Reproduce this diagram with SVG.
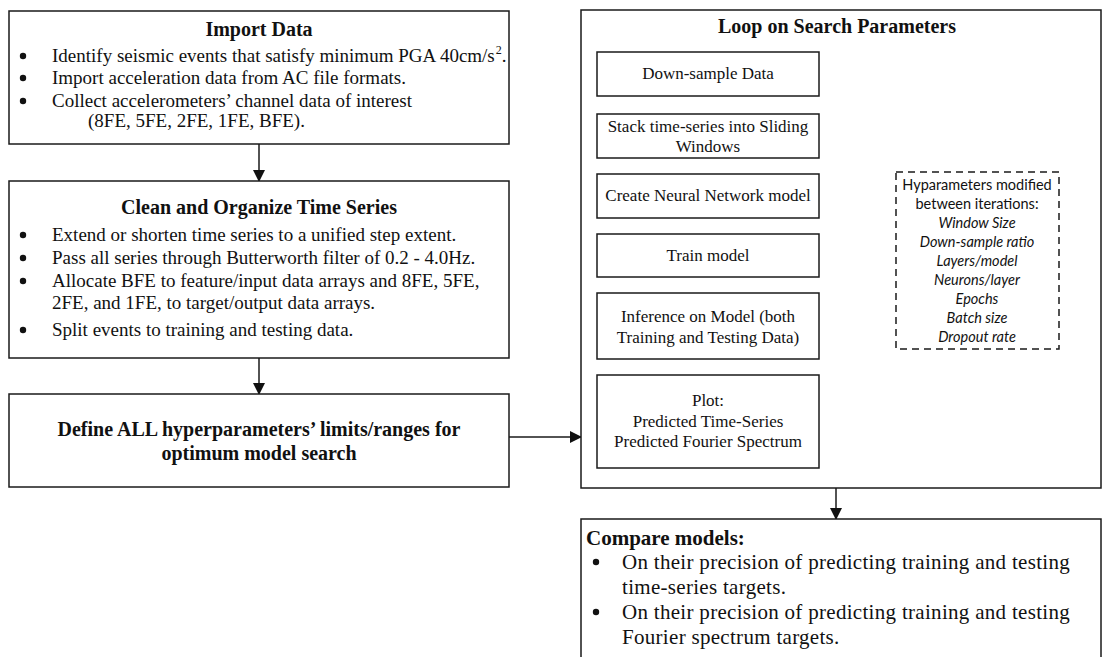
<svg xmlns="http://www.w3.org/2000/svg" width="1106" height="657" viewBox="0 0 1106 657">
<style>
.box{fill:#fff;stroke:#1a1a1a;stroke-width:1.5}
.dash{fill:#fff;stroke:#1a1a1a;stroke-width:1.5;stroke-dasharray:7,5}
.t{font-family:"Liberation Serif","Times New Roman",serif;font-size:19px;fill:#111}
.tb{font-family:"Liberation Serif","Times New Roman",serif;font-size:20px;font-weight:bold;fill:#111}
.cb{font-family:"Liberation Serif","Times New Roman",serif;font-size:21px;font-weight:bold;fill:#111}
.ct{font-family:"Liberation Serif","Times New Roman",serif;font-size:21px;letter-spacing:0.3px;fill:#111}
.bu{fill:#111}
.s{font-family:"Liberation Serif","Times New Roman",serif;font-size:17px;fill:#111}
.c{font-family:Lato,"Open Sans",sans-serif;font-size:14.5px;fill:#111}
.ci{font-style:italic}
.ln{fill:none;stroke:#1a1a1a;stroke-width:1.5}
</style>
<defs>
<marker id="ah" markerWidth="12" markerHeight="12" refX="11" refY="6" orient="auto" markerUnits="userSpaceOnUse">
<path d="M0,0 L12,6 L0,12 Z" fill="#111"/>
</marker>
</defs>

<g id="connectors">
<line class="ln" x1="259" y1="144" x2="259" y2="181" marker-end="url(#ah)"/>
<line class="ln" x1="259" y1="358" x2="259" y2="394" marker-end="url(#ah)"/>
<line class="ln" x1="509" y1="437" x2="581" y2="437" marker-end="url(#ah)"/>
<polyline class="ln" points="983,172 983,64 819,64" marker-end="url(#ah)"/>
<polyline class="ln" points="819,457 983,457 983,349" marker-end="url(#ah)"/>
<line class="ln" x1="836" y1="488" x2="836" y2="519" marker-end="url(#ah)"/>
</g>

<g id="import">
<rect class="box" x="9" y="11" width="500" height="133"/>
<text class="tb" x="259" y="36" text-anchor="middle">Import Data</text>
<g class="bu">
<circle cx="23" cy="56" r="3.2"/>
<circle cx="23" cy="78" r="3.2"/>
<circle cx="23" cy="101" r="3.2"/>
</g>
<g class="t">
<text x="52" y="62">Identify seismic events that satisfy minimum PGA 40cm/s<tspan font-size="12" dx="1" dy="-8">2</tspan><tspan dy="8">.</tspan></text>
<text x="52" y="84">Import acceleration data from AC file formats.</text>
<text x="52" y="107">Collect accelerometers’ channel data of interest</text>
<text x="88" y="127">(8FE, 5FE, 2FE, 1FE, BFE).</text>
</g>
</g>

<g id="clean">
<rect class="box" x="9" y="181" width="500" height="177"/>
<text class="tb" x="259" y="214" text-anchor="middle">Clean and Organize Time Series</text>
<g class="bu">
<circle cx="23" cy="235" r="3.2"/>
<circle cx="23" cy="258" r="3.2"/>
<circle cx="23" cy="281" r="3.2"/>
<circle cx="23" cy="330" r="3.2"/>
</g>
<g class="t">
<text x="52" y="241">Extend or shorten time series to a unified step extent.</text>
<text x="52" y="264">Pass all series through Butterworth filter of 0.2 - 4.0Hz.</text>
<text x="52" y="287">Allocate BFE to feature/input data arrays and 8FE, 5FE,</text>
<text x="52" y="309">2FE, and 1FE, to target/output data arrays.</text>
<text x="52" y="336">Split events to training and testing data.</text>
</g>
</g>

<g id="define">
<rect class="box" x="9" y="394" width="500" height="93"/>
<text class="tb" x="259" y="436" text-anchor="middle" font-size="20.5">Define ALL hyperparameters’ limits/ranges for</text>
<text class="tb" x="259" y="460" text-anchor="middle" font-size="20.5">optimum model search</text>
</g>

<g id="loop">
<rect class="box" x="581" y="10" width="520" height="478"/>
<text class="tb" x="837" y="33" text-anchor="middle">Loop on Search Parameters</text>
</g>

<g id="downsample">
<rect class="box" x="597" y="52" width="222" height="44"/>
<text class="s" x="708" y="79" text-anchor="middle">Down-sample Data</text>
</g>
<g id="stack">
<rect class="box" x="597" y="114" width="222" height="44"/>
<text class="s" x="708" y="132" text-anchor="middle">Stack time-series into Sliding</text>
<text class="s" x="708" y="152" text-anchor="middle">Windows</text>
</g>
<g id="create">
<rect class="box" x="597" y="174" width="222" height="44"/>
<text class="s" x="708" y="201" text-anchor="middle">Create Neural Network model</text>
</g>
<g id="train">
<rect class="box" x="597" y="234" width="222" height="43"/>
<text class="s" x="708" y="261" text-anchor="middle">Train model</text>
</g>
<g id="inference">
<rect class="box" x="597" y="293" width="222" height="66"/>
<text class="s" x="708" y="322" text-anchor="middle">Inference on Model (both</text>
<text class="s" x="708" y="343" text-anchor="middle">Training and Testing Data)</text>
</g>
<g id="plot">
<rect class="box" x="597" y="375" width="222" height="93"/>
<text class="s" x="708" y="406" text-anchor="middle">Plot:</text>
<text class="s" x="708" y="427" text-anchor="middle">Predicted Time-Series</text>
<text class="s" x="708" y="447" text-anchor="middle">Predicted Fourier Spectrum</text>
</g>

<g id="hyper">
<rect class="dash" x="896" y="172" width="163" height="177"/>
<g class="c" text-anchor="middle">
<text x="977" y="190">Hyparameters modified</text>
<text x="977" y="209">between iterations:</text>
<text class="ci" x="977" y="228">Window Size</text>
<text class="ci" x="977" y="247">Down-sample ratio</text>
<text class="ci" x="977" y="266">Layers/model</text>
<text class="ci" x="977" y="285">Neurons/layer</text>
<text class="ci" x="977" y="304">Epochs</text>
<text class="ci" x="977" y="323">Batch size</text>
<text class="ci" x="977" y="342">Dropout rate</text>
</g>
</g>

<g id="compare">
<rect class="box" x="581" y="519" width="520" height="150"/>
<text class="cb" x="586" y="545">Compare models:</text>
<g class="bu">
<circle cx="596" cy="562" r="3.2"/>
<circle cx="596" cy="612" r="3.2"/>
</g>
<g class="ct">
<text x="622" y="569">On their precision of predicting training and testing</text>
<text x="622" y="594">time-series targets.</text>
<text x="622" y="619">On their precision of predicting training and testing</text>
<text x="622" y="644">Fourier spectrum targets.</text>
</g>
</g>
</svg>
